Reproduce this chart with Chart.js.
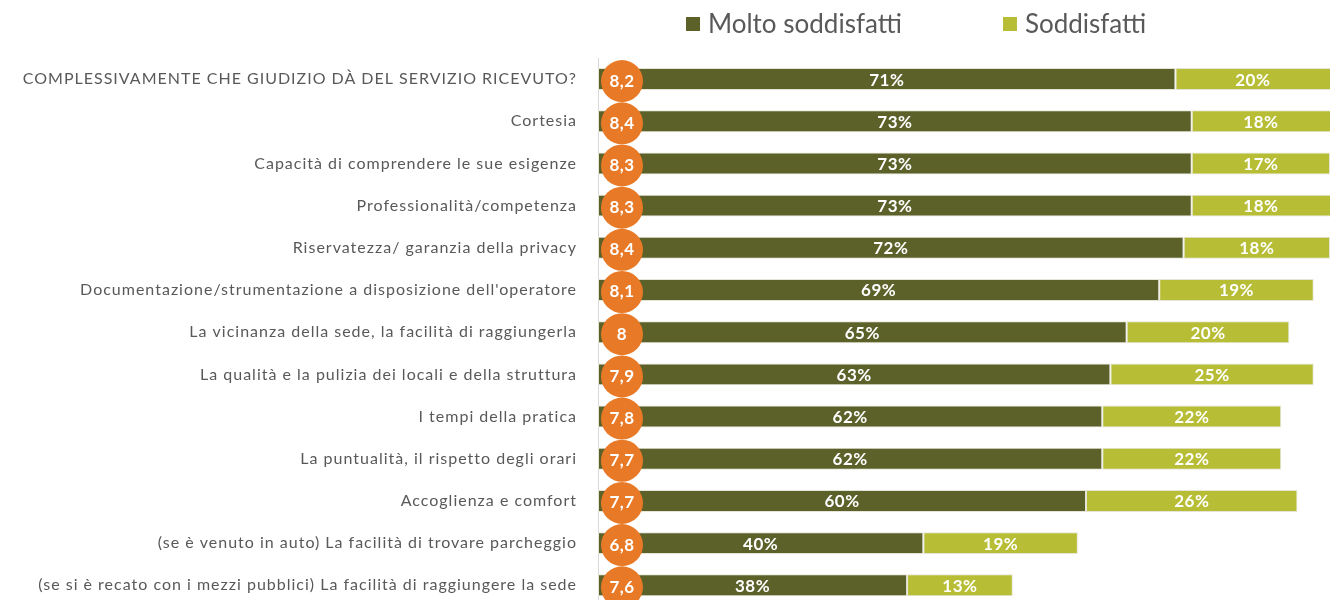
<!DOCTYPE html>
<html lang="it">
<head>
  <meta charset="UTF-8" />
  <title>Soddisfazione servizio</title>
  <script src="https://cdn.jsdelivr.net/npm/chart.js"></script>
  <style>
    html, body { margin: 0; padding: 0; background: #fff; overflow: hidden; }
    #wrap { position: relative; width: 1330px; height: 640px; }
    #legend { position: absolute; top: 7px; left: 686px; display: flex; font-family: Lato, sans-serif; font-size: 26px; color: #595959; }
    #legend .item { display: flex; align-items: center; margin-right: 101px; }
    #legend .box { width: 14px; height: 14px; margin-right: 8px; margin-top: 2px; }
    canvas { display: block; }
  </style>
</head>
<body>
  <div id="wrap">
    <div id="legend"></div>
    <canvas id="chart" width="1330" height="629"></canvas>
  </div>

  <script>
    const categories = [
      "COMPLESSIVAMENTE CHE GIUDIZIO DÀ DEL SERVIZIO RICEVUTO?",
      "Cortesia",
      "Capacità di comprendere le sue esigenze",
      "Professionalità/competenza",
      "Riservatezza/ garanzia della privacy",
      "Documentazione/strumentazione a disposizione dell'operatore",
      "La vicinanza della sede, la facilità di raggiungerla",
      "La qualità e la pulizia dei locali e della struttura",
      "I tempi della pratica",
      "La puntualità, il rispetto degli orari",
      "Accoglienza e comfort",
      "(se è venuto in auto) La facilità di trovare parcheggio",
      "(se si è recato con i mezzi pubblici) La facilità di raggiungere la sede"
    ];
    const moltoSoddisfatti = [71, 73, 73, 73, 72, 69, 65, 63, 62, 62, 60, 40, 38];
    const soddisfatti      = [20, 18, 17, 18, 18, 19, 20, 25, 22, 22, 26, 19, 13];
    const punteggi = ["8,2", "8,4", "8,3", "8,3", "8,4", "8,1", "8", "7,9", "7,8", "7,7", "7,7", "6,8", "7,6"];

    const DARK = "#5b6129";
    const LIGHT = "#b7bd35";
    const ORANGE = "#e87a27";

    // spaziatura delle etichette dell'asse (come nel pdf)
    const spacing = {
      id: "spacing",
      beforeDraw(chart) { chart.ctx.letterSpacing = "1px"; },
      beforeDatasetsDraw(chart) { chart.ctx.letterSpacing = "0px"; }
    };

    // etichette bianche dentro le barre
    const barLabels = {
      id: "barLabels",
      afterDatasetsDraw(chart) {
        const ctx = chart.ctx;
        const area = chart.chartArea;
        ctx.save();
        ctx.fillStyle = "#fff";
        ctx.font = "bold 17px Lato, sans-serif";
        ctx.letterSpacing = "0.5px";
        ctx.textAlign = "center";
        ctx.textBaseline = "middle";
        chart.data.datasets.forEach((ds, i) => {
          chart.getDatasetMeta(i).data.forEach((bar, j) => {
            const left = Math.max(bar.base, area.left);
            const right = Math.min(bar.x, area.right);
            ctx.fillText(ds.data[j] + "%", (left + right) / 2, bar.y + 1);
          });
        });
        ctx.restore();
      }
    };

    // cerchi arancioni con il punteggio medio
    const scoreCircles = {
      id: "scoreCircles",
      afterDatasetsDraw(chart) {
        const ctx = chart.ctx;
        const y = chart.scales.y;
        const cx = chart.chartArea.left + 24;
        ctx.save();
        ctx.font = "bold 17px Lato, sans-serif";
        ctx.letterSpacing = "0.5px";
        ctx.textAlign = "center";
        ctx.textBaseline = "middle";
        punteggi.forEach((p, i) => {
          const cy = y.getPixelForValue(i) + 2;
          ctx.beginPath();
          ctx.arc(cx, cy, 21, 0, Math.PI * 2);
          ctx.fillStyle = ORANGE;
          ctx.fill();
          ctx.fillStyle = "#fff";
          ctx.fillText(p, cx, cy);
        });
        ctx.restore();
      }
    };

    const chart = new Chart(document.getElementById("chart"), {
      type: "bar",
      data: {
        labels: categories,
        datasets: [
          { label: "Molto soddisfatti", data: moltoSoddisfatti, backgroundColor: DARK, borderColor: "#e4e4d8", borderWidth: 1, borderSkipped: false },
          { label: "Soddisfatti", data: soddisfatti, backgroundColor: LIGHT, borderColor: "#e4e4d8", borderWidth: 1, borderSkipped: false }
        ]
      },
      options: {
        indexAxis: "y",
        responsive: false,
        animation: false,
        layout: { padding: { top: 58, bottom: 6, right: 0 } },
        datasets: { bar: { categoryPercentage: 1, barPercentage: 0.52 } },
        plugins: { legend: { display: false }, tooltip: { enabled: false } },
        scales: {
          x: { stacked: true, min: 0, max: 90, display: false },
          y: {
            stacked: true,
            grid: { display: false },
            border: { display: true, color: "#d9d9d9", width: 1 },
            ticks: { color: "#595959", font: { family: "Lato", size: 16 }, padding: 13 },
            afterFit(scale) { scale.width = 598; }
          }
        }
      },
      plugins: [spacing, barLabels, scoreCircles]
    });

    const legend = document.getElementById("legend");
    chart.data.datasets.forEach(ds => {
      const item = document.createElement("div");
      item.className = "item";
      item.innerHTML = `<span class="box" style="background:${ds.backgroundColor}"></span><span>${ds.label}</span>`;
      legend.appendChild(item);
    });
  </script>
</body>
</html>
